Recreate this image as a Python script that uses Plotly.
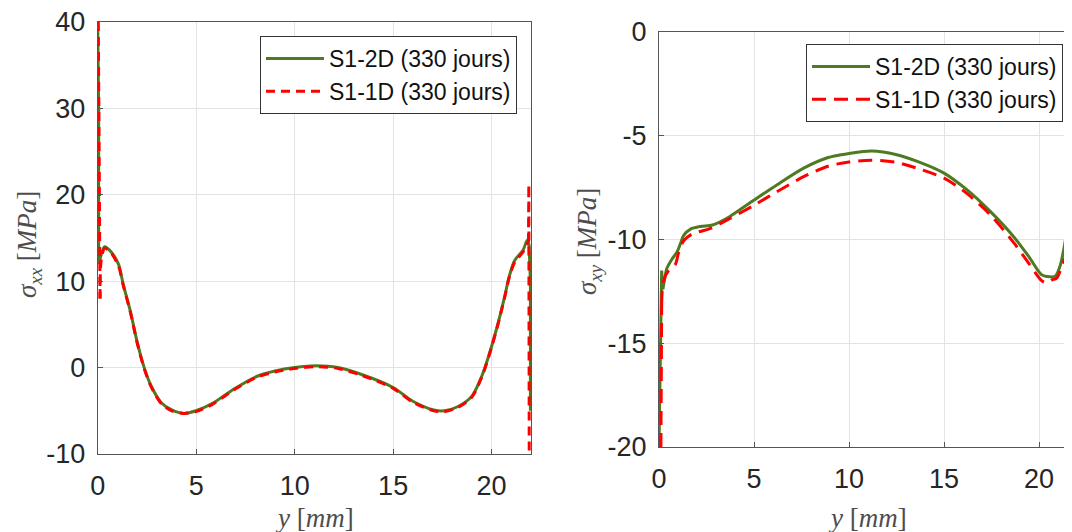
import plotly.graph_objects as go

# ---------------------------------------------------------------
# Left panel : sigma_xx  (MPa) versus y (mm)
# ---------------------------------------------------------------

xx_2d_y = [0.0, 0.05, 0.05, 0.2, 0.35, 0.6, 1.05, 1.3, 1.66, 2.0, 2.36, 2.71, 3.24,
           3.76, 4.37, 4.99, 5.86, 6.9, 8.1, 9.0, 10.0, 11.1, 12.2, 13.4, 15.0,
           16.0, 17.06, 17.6, 18.3, 19.0, 19.5, 19.86, 20.3, 20.65, 20.9, 21.17,
           21.6, 21.8, 21.9, 21.97, 21.97]
xx_2d_s = [40.0, 30.0, 12.0, 13.2, 14.0, 13.6, 12.0, 9.6, 6.5, 3.0, 0.0, -2.1, -4.1,
           -4.9, -5.3, -5.0, -4.1, -2.5, -1.0, -0.4, 0.0, 0.2, 0.0, -0.8, -2.3,
           -3.9, -4.9, -5.0, -4.5, -3.3, -1.0, 1.4, 4.9, 8.1, 10.6, 12.4,
           13.6, 14.7, 14.3, 10.0, -5.0]

xx_1d_y = [0.03, 0.06, 0.12, 0.18, 0.35, 0.6, 1.05, 1.3, 1.66, 2.0, 2.36, 2.71, 3.24,
           3.76, 4.37, 4.99, 5.86, 6.9, 8.1, 9.0, 10.0, 11.1, 12.2, 13.4, 15.0,
           16.0, 17.06, 17.6, 18.3, 19.0, 19.5, 19.86, 20.3, 20.65, 20.9, 21.17,
           21.6, 21.8, 21.87, 21.89, 21.91]
xx_1d_s = [40.0, 25.0, 8.0, 12.5, 13.8, 13.5, 11.8, 9.5, 6.4, 2.9, -0.1, -2.2, -4.2,
           -5.0, -5.3, -5.1, -4.2, -2.6, -1.1, -0.5, -0.1, 0.1, -0.1, -0.9, -2.4,
           -4.0, -5.0, -5.1, -4.6, -3.4, -1.1, 1.3, 4.8, 8.0, 10.5, 12.2,
           13.4, 14.3, 14.5, 21.2, -10.0]

# ---------------------------------------------------------------
# Right panel : sigma_xy  (MPa) versus y (mm)
# ---------------------------------------------------------------

xy_2d_y = [0.0, 0.07, 0.14, 0.2, 0.3, 0.41, 0.68, 0.95, 1.13, 1.3, 1.66, 2.2, 2.82,
           3.71, 5.0, 6.2, 7.64, 8.9, 9.5, 10.0, 11.2, 12.46, 13.7, 15.0, 16.2,
           17.46, 18.7, 19.5, 20.14, 20.58, 20.86, 21.1, 21.3, 21.45, 21.58, 21.68,
           21.8, 22.0]
xy_2d_s = [-20.0, -14.8, -11.5, -12.4, -11.9, -11.4, -10.95, -10.6, -10.2, -9.8,
           -9.5, -9.37, -9.3, -8.9, -8.1, -7.37, -6.55, -6.05, -5.93, -5.85, -5.74,
           -5.9, -6.27, -6.8, -7.6, -8.67, -9.9, -10.87, -11.7, -11.8, -11.77,
           -11.3, -10.5, -9.6, -8.3, -6.6, -4.8, -3.0]

xy_1d_y = [0.1, 0.14, 0.23, 0.5, 0.86, 1.04, 1.3, 1.75, 2.64, 3.71, 5.0, 6.2, 7.64,
           8.9, 10.0, 11.2, 12.46, 13.7, 15.0, 16.2, 17.46, 18.7, 19.5, 20.14,
           20.4, 20.68, 20.93, 21.2, 21.5, 21.7, 22.0]
xy_1d_s = [-20.0, -13.15, -12.0, -11.5, -11.2, -10.6, -10.06, -9.73, -9.49, -9.0,
           -8.35, -7.7, -6.96, -6.47, -6.26, -6.18, -6.28, -6.6, -7.04, -7.78,
           -8.83, -10.19, -11.2, -11.98, -12.1, -11.95, -11.86, -11.3, -10.5,
           -9.0, -6.0]

# tick values / labels (MATLAB style hyphen minus)
x_ticks = [0, 5, 10, 15, 20]
xx_ticks = [-10, 0, 10, 20, 30, 40]
xy_ticks = [-20, -15, -10, -5, 0]

label_2d = "S1-2D (330 jours)"
label_1d = "S1-1D (330 jours)"

GREEN = "#4e7b22"
RED = "#ff0000"
TICK_FONT = dict(family="Liberation Sans, Arial, sans-serif", size=27, color="#262626")
TITLE_FONT = dict(family="Liberation Serif, DejaVu Serif, serif", size=27, color="#4d4d4d")

# the page body adds an 8 px margin: the figure is shrunk so that the
# page fills the 1072x532 window exactly, and positions are given in
# window pixels.
OFF = 8
W, H = 1072 - OFF, 532 - OFF


def px(x):
    return (x - OFF) / W


def py(y):
    return 1 - (y - OFF) / H


fig = go.Figure()


def add_series(xs, ys, head, tail, name, color, dash, xa, ya, lg):
    """Straight segments for the vertical edge jumps, smooth spline in between."""
    n = len(xs)
    line = dict(color=color, width=3, dash=dash)
    common = dict(mode="lines", xaxis=xa, yaxis=ya, legend=lg, hoverinfo="skip")
    if head > 0:
        fig.add_trace(go.Scatter(x=xs[:head + 1], y=ys[:head + 1], line=line,
                                 showlegend=False, name=name, **common))
    fig.add_trace(go.Scatter(x=xs[head:n - tail], y=ys[head:n - tail],
                             line=dict(line, shape="spline", smoothing=0.8),
                             showlegend=True, name=name, **common))
    if tail > 0:
        fig.add_trace(go.Scatter(x=xs[n - tail - 1:], y=ys[n - tail - 1:], line=line,
                                 showlegend=False, name=name, **common))


add_series(xx_2d_y, xx_2d_s, 2, 2, label_2d, GREEN, "solid", "x", "y", "legend")
add_series(xx_1d_y, xx_1d_s, 2, 2, label_1d, RED, "9px,6px", "x", "y", "legend")
add_series(xy_2d_y, xy_2d_s, 3, 0, label_2d, GREEN, "solid", "x2", "y2", "legend2")
add_series(xy_1d_y, xy_1d_s, 1, 0, label_1d, RED, "14px,8px", "x2", "y2", "legend2")

axis_common = dict(
    showgrid=True, gridcolor="#e3e3e3", gridwidth=1,
    showline=True, linecolor="#555555", linewidth=1,
    ticks="inside", ticklen=5, tickcolor="#555555",
    tickfont=TICK_FONT, zeroline=False, automargin=False,
    ticklabeloverflow="allow",
)

legend_common = dict(
    bgcolor="white", bordercolor="#333333", borderwidth=1,
    font=dict(family="Liberation Sans, Arial, sans-serif", size=23, color="#111111"),
    xanchor="right", yanchor="top", tracegroupgap=0, itemwidth=58,
)

fig.update_layout(
    width=W, height=H,
    margin=dict(l=0, r=0, t=0, b=0, autoexpand=False),
    paper_bgcolor="white", plot_bgcolor="white",
    showlegend=True,

    xaxis=dict(axis_common, domain=[px(97.7), px(531)], range=[0, 22],
               tickvals=x_ticks, ticktext=[str(v) for v in x_ticks],
               mirror=True, anchor="y", ticklabelstandoff=8),
    yaxis=dict(axis_common, domain=[py(454), py(22)], range=[-10, 40],
               tickvals=xx_ticks, ticktext=[str(v) for v in xx_ticks],
               mirror=True, anchor="x", ticklabelstandoff=6),

    xaxis2=dict(axis_common, domain=[px(659), 1.0], range=[0, (1072 - 659) / 19.0],
                tickvals=x_ticks, ticktext=[str(v) for v in x_ticks],
                mirror=True, anchor="y2", ticklabelstandoff=8),
    yaxis2=dict(axis_common, domain=[py(447), py(32)], range=[-20, 0],
                tickvals=xy_ticks, ticktext=[str(v) for v in xy_ticks],
                anchor="x2", ticklabelstandoff=6),

    legend=dict(legend_common, x=px(517), y=py(36)),
    legend2=dict(legend_common, x=px(1063), y=py(44)),

    annotations=[
        dict(text="<i>y</i> [<i>mm</i>]", x=px(314), y=py(518), xref="paper",
             yref="paper", xanchor="center", yanchor="middle", showarrow=False,
             font=TITLE_FONT),
        dict(text="<i>y</i> [<i>mm</i>]", x=px(867), y=py(518), xref="paper",
             yref="paper", xanchor="center", yanchor="middle", showarrow=False,
             font=TITLE_FONT),
        dict(text="<i>σ</i><sub><i>xx</i></sub> [<i>MPa</i>]", x=px(29), y=py(245),
             xref="paper", yref="paper", xanchor="center", yanchor="middle",
             textangle=-90, showarrow=False, font=TITLE_FONT),
        dict(text="<i>σ</i><sub><i>xy</i></sub> [<i>MPa</i>]", x=px(589), y=py(242),
             xref="paper", yref="paper", xanchor="center", yanchor="middle",
             textangle=-90, showarrow=False, font=TITLE_FONT),
    ],
)

fig.write_html("out.html")
